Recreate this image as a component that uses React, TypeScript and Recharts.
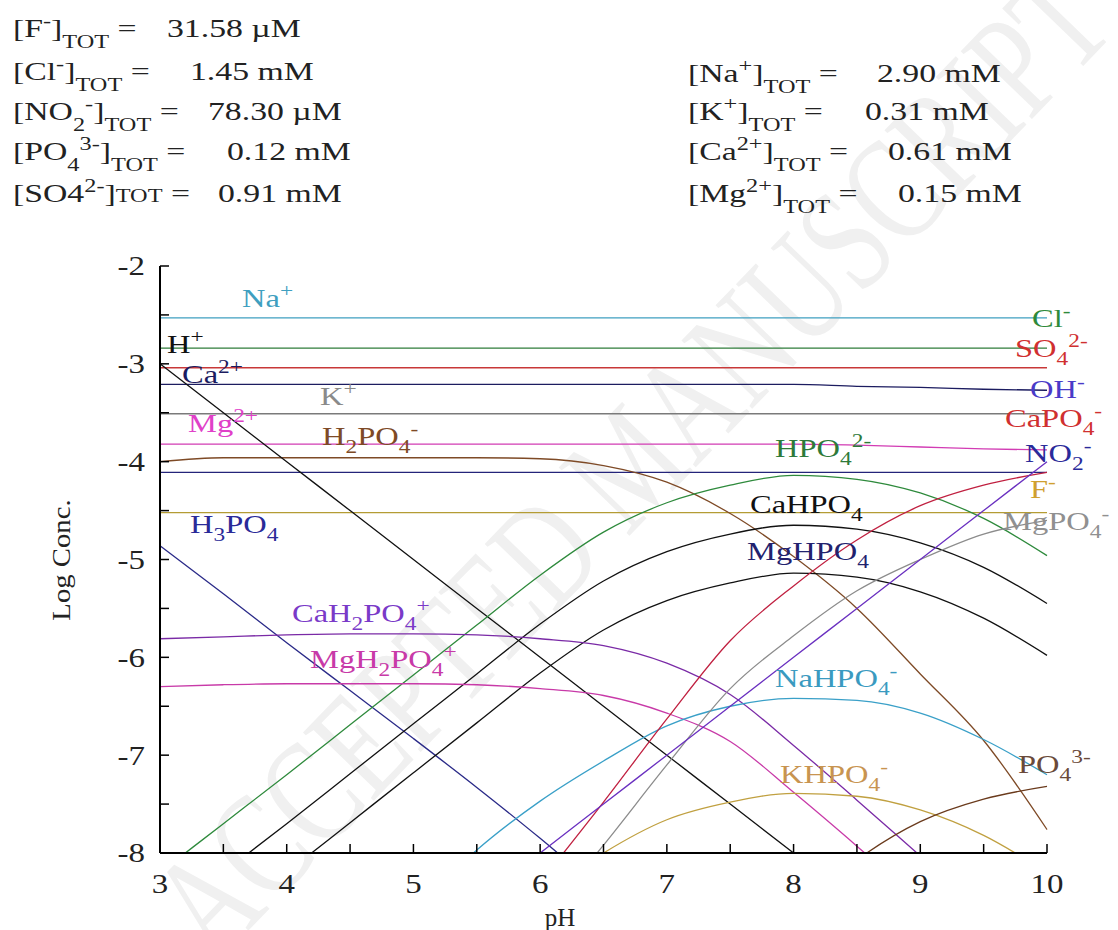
import React from 'react';
import { LineChart, Line, XAxis, YAxis } from 'recharts';

// pH grid (x) and axis ticks
const phValues = [3, 3.5, 4, 4.5, 5, 5.5, 6, 6.5, 7, 7.5, 8, 8.5, 9, 9.5, 10];
const xTicks = [3, 3.5, 4, 4.5, 5, 5.5, 6, 6.5, 7, 7.5, 8, 8.5, 9, 9.5, 10];
const yTicks = [-8, -7.5, -7, -6.5, -6, -5.5, -5, -4.5, -4, -3.5, -3, -2.5, -2];

// log concentrations, one value per pH above
const naPlus = [-2.53, -2.53, -2.53, -2.53, -2.53, -2.53, -2.53, -2.53, -2.53, -2.53, -2.53, -2.53, -2.53, -2.53, -2.53];
const clMinus = [-2.84, -2.84, -2.84, -2.84, -2.84, -2.84, -2.84, -2.84, -2.84, -2.84, -2.84, -2.84, -2.84, -2.84, -2.84];
const so4 = [-3.04, -3.04, -3.04, -3.04, -3.04, -3.04, -3.04, -3.04, -3.04, -3.04, -3.04, -3.04, -3.04, -3.04, -3.04];
const caFree = [-3.21, -3.21, -3.21, -3.21, -3.21, -3.21, -3.21, -3.21, -3.21, -3.21, -3.21, -3.23, -3.24, -3.26, -3.27];
const kPlus = [-3.51, -3.51, -3.51, -3.51, -3.51, -3.51, -3.51, -3.51, -3.51, -3.51, -3.51, -3.51, -3.51, -3.51, -3.51];
const mgFree = [-3.82, -3.82, -3.82, -3.82, -3.82, -3.82, -3.82, -3.82, -3.82, -3.82, -3.82, -3.83, -3.85, -3.87, -3.88];
const no2 = [-4.11, -4.11, -4.11, -4.11, -4.11, -4.11, -4.11, -4.11, -4.11, -4.11, -4.11, -4.11, -4.11, -4.11, -4.11];
const fMinus = [-4.52, -4.52, -4.52, -4.52, -4.52, -4.52, -4.52, -4.52, -4.52, -4.52, -4.52, -4.52, -4.52, -4.52, -4.52];
const hPlus = [-3, -3.5, -4, -4.5, -5, -5.5, -6, -6.5, -7, -7.5, -8, -8.5, null, null, null];
const ohMinus = [null, null, null, null, null, -8.5, -8, -7.5, -7, -6.5, -6, -5.5, -5, -4.5, -4];
const h3po4 = [-4.86, -5.35, -5.85, -6.34, -6.83, -7.33, -7.85, -8.4, null, null, null, null, null, null, null];
const h2po4 = [-4.0, -3.96, -3.96, -3.96, -3.96, -3.96, -3.97, -4.04, -4.21, -4.53, -4.97, -5.5, -6.17, -6.85, -7.76];
const hpo4 = [-8.2, -7.7, -7.2, -6.69, -6.18, -5.67, -5.16, -4.72, -4.42, -4.24, -4.14, -4.18, -4.32, -4.58, -4.96];
const caHpo4 = [-8.7, -8.2, -7.7, -7.19, -6.68, -6.17, -5.66, -5.22, -4.92, -4.74, -4.65, -4.69, -4.83, -5.08, -5.45];
const mgHpo4 = [null, -8.7, -8.2, -7.69, -7.18, -6.67, -6.16, -5.72, -5.42, -5.24, -5.14, -5.18, -5.33, -5.6, -5.98];
const caH2po4 = [-5.81, -5.79, -5.77, -5.76, -5.76, -5.77, -5.81, -5.88, -6.06, -6.38, -6.9, -7.46, -8.03, -8.6, null];
const mgH2po4 = [-6.3, -6.28, -6.27, -6.27, -6.27, -6.28, -6.32, -6.39, -6.57, -6.86, -7.38, -7.93, -8.5, null, null];
const naHpo4 = [null, null, null, null, -8.6, -7.97, -7.47, -7.06, -6.7, -6.5, -6.42, -6.44, -6.57, -6.84, -7.2];
const kHpo4 = [null, null, null, null, null, null, -8.45, -8.0, -7.66, -7.48, -7.39, -7.42, -7.56, -7.82, -8.2];
const po4 = [null, null, null, null, null, null, null, null, null, null, -8.6, -8.07, -7.68, -7.45, -7.32];
const caPo4 = [null, null, null, null, null, null, -8.3, -7.48, -6.63, -5.83, -5.27, -4.8, -4.45, -4.24, -4.11];
const mgPo4 = [null, null, null, null, null, null, -8.7, -7.92, -7.1, -6.32, -5.78, -5.32, -5.0, -4.74, -4.6];

const SERIES = [
  { key: 'Na', values: naPlus, color: '#3f9fc0' },
  { key: 'Cl', values: clMinus, color: '#2f7d3a' },
  { key: 'SO4', values: so4, color: '#c83838' },
  { key: 'Ca', values: caFree, color: '#1c1c60' },
  { key: 'K', values: kPlus, color: '#7a7a7a' },
  { key: 'Mg', values: mgFree, color: '#d23cb4' },
  { key: 'NO2', values: no2, color: '#24247a' },
  { key: 'F', values: fMinus, color: '#b49c34' },
  { key: 'H2PO4', values: h2po4, color: '#7e4a26' },
  { key: 'H3PO4', values: h3po4, color: '#2a2a88' },
  { key: 'H', values: hPlus, color: '#111111' },
  { key: 'HPO4', values: hpo4, color: '#2e8a3c' },
  { key: 'CaHPO4', values: caHpo4, color: '#111111' },
  { key: 'MgHPO4', values: mgHpo4, color: '#111111' },
  { key: 'CaH2PO4', values: caH2po4, color: '#7a2aa6' },
  { key: 'MgH2PO4', values: mgH2po4, color: '#c83aa8' },
  { key: 'NaHPO4', values: naHpo4, color: '#3aa0c8' },
  { key: 'KHPO4', values: kHpo4, color: '#c0a040' },
  { key: 'PO4', values: po4, color: '#6a3a1c' },
  { key: 'CaPO4', values: caPo4, color: '#c02040' },
  { key: 'MgPO4', values: mgPo4, color: '#8c8c8c' },
  { key: 'OH', values: ohMinus, color: '#6a30c0' },
];

const data = phValues.map((p, i) => {
  const row: Record<string, number | null> = { pH: p };
  SERIES.forEach((s) => { row[s.key] = s.values[i]; });
  return row;
});

// text labels: [text, left x, baseline y, colour]
const speciesLabels: [string, number, number, string][] = [
  ['Na^{+}', 242, 307, '#3f9fc0'],
  ['H^{+}', 167, 353, '#111'],
  ['Ca^{2+}', 182, 383, '#1c1c60'],
  ['K^{+}', 320, 405, '#8a8a8a'],
  ['Mg^{2+}', 188, 432, '#e040c8'],
  ['H_{2}PO_{4}^{-}', 322, 445, '#7e4a26'],
  ['H_{3}PO_{4}', 190, 533, '#2a2a98'],
  ['CaH_{2}PO_{4}^{+}', 292, 622, '#7a3ac8'],
  ['MgH_{2}PO_{4}^{+}', 310, 668, '#c83aa8'],
  ['HPO_{4}^{2-}', 775, 457, '#2e7a3a'],
  ['CaHPO_{4}', 750, 513, '#111'],
  ['MgHPO_{4}', 747, 560, '#22226e'],
  ['NaHPO_{4}^{-}', 775, 687, '#3a9ac0'],
  ['KHPO_{4}^{-}', 780, 783, '#c89450'],
  ['PO_{4}^{3-}', 1018, 773, '#6a4a3a'],
  ['Cl^{-}', 1032, 327, '#2e8a3a'],
  ['SO_{4}^{2-}', 1015, 357, '#d03030'],
  ['OH^{-}', 1030, 398, '#4a3ac8'],
  ['CaPO_{4}^{-}', 1005, 427, '#d03030'],
  ['NO_{2}^{-}', 1025, 462, '#2a2a9a'],
  ['F^{-}', 1030, 498, '#d0a030'],
  ['MgPO_{4}^{-}', 1003, 530, '#909090'],
];

const headerLabels: [string, number, number][] = [
  ['[F^{-}]_{TOT} =', 13, 37],
  ['[Cl^{-}]_{TOT} =', 13, 80],
  ['[NO_{2}^{-}]_{TOT} =', 13, 120],
  ['[PO_{4}^{3-}]_{TOT} =', 13, 160],
  ['[SO4^{2-}]~{TOT} =', 13, 202],
  ['[Na^{+}]_{TOT} =', 688, 82],
  ['[K^{+}]_{TOT} =', 688, 120],
  ['[Ca^{2+}]_{TOT} =', 688, 160],
  ['[Mg^{2+}]_{TOT} =', 688, 202],
];
const headerValues: [string, number, number][] = [
  ['31.58 µM', 167, 37],
  ['1.45 mM', 190, 80],
  ['78.30 µM', 208, 120],
  ['0.12 mM', 227, 160],
  ['0.91 mM', 218, 202],
  ['2.90 mM', 877, 82],
  ['0.31 mM', 865, 120],
  ['0.61 mM', 888, 160],
  ['0.15 mM', 898, 202],
];

const W = 1118;
const H = 930;
const PLOT_LEFT = 160;
const PLOT_RIGHT = 1047;
const PLOT_TOP = 266;
const PLOT_BOTTOM = 853;
const Y_AXIS_W = 60;
const X_AXIS_H = 40;
const SERIF = "'Liberation Serif', 'Times New Roman', serif";
const Y_GAP = 12;

// "^{..}" superscript, "_{..}" subscript, "~{..}" small text on the baseline
function splitChem(s: string) {
  const out: { t: string; k: string }[] = [];
  const re = /(\^|_|~)\{([^}]*)\}/g;
  let last = 0;
  let m: RegExpExecArray | null;
  while ((m = re.exec(s))) {
    if (m.index > last) out.push({ t: s.slice(last, m.index), k: 'n' });
    out.push({ t: m[2], k: m[1] === '^' ? 'sup' : m[1] === '_' ? 'sub' : 'small' });
    last = re.lastIndex;
  }
  if (last < s.length) out.push({ t: s.slice(last), k: 'n' });
  return out;
}

const Chem = ({ text, x, y, size, color, sx, subShift = 0.3, anchor = 'start' }: any) => {
  let cur = 0;
  return (
    <text transform={`translate(${x},${y}) scale(${sx},1)`} fontFamily={SERIF} fontSize={size}
      fill={color} textAnchor={anchor} style={{ whiteSpace: 'pre' }}>
      {splitChem(text).map((p, i) => {
        const target = p.k === 'sup' ? -0.4 * size : p.k === 'sub' ? subShift * size : 0;
        const dy = target - cur;
        cur = target;
        return (
          <tspan key={i} dy={dy} fontSize={p.k === 'n' ? size : size * 0.72}>{p.t}</tspan>
        );
      })}
    </text>
  );
};

const YTick = (props: any) => {
  const { x, y, payload } = props;
  const ax = x + Y_GAP;
  const major = Number.isInteger(payload.value);
  return (
    <g>
      <line x1={ax} x2={ax + 9} y1={y} y2={y} stroke="#000" strokeWidth={1.5} />
      {major && (
        <text transform={`translate(${x - 3},${y}) scale(1.22,1)`} textAnchor="end" dy="0.35em"
          fontFamily={SERIF} fontSize={27} fill="#222">{payload.value}</text>
      )}
    </g>
  );
};

const XTick = (props: any) => {
  const { x, y, payload } = props;
  const major = Number.isInteger(payload.value);
  return (
    <g>
      <line x1={x} x2={x} y1={y} y2={y - 9} stroke="#000" strokeWidth={1.5} />
      {major && (
        <text transform={`translate(${x},${y + 40}) scale(1.22,1)`} textAnchor="middle"
          fontFamily={SERIF} fontSize={27} fill="#222">{payload.value}</text>
      )}
    </g>
  );
};

export default function App() {
  return (
    <div style={{ position: 'relative', width: W, height: H, background: '#fff', overflow: 'hidden' }}>
      <style>{`body{margin:0;}`}</style>
      <svg width={W} height={H} style={{ position: 'absolute', left: 0, top: 0 }}>
        <text transform="translate(215,965) rotate(-46)" fontFamily={SERIF} fontSize={150}
          fill="#f0f0f0" textLength={1300} lengthAdjust="spacingAndGlyphs">ACCEPTED MANUSCRIPT</text>
      </svg>
      <div style={{ position: 'absolute', left: 0, top: 0 }}>
        <LineChart width={W} height={H} data={data}
          margin={{ top: PLOT_TOP, right: W - PLOT_RIGHT, bottom: H - PLOT_BOTTOM - X_AXIS_H, left: PLOT_LEFT - Y_AXIS_W }}>
          <XAxis dataKey="pH" type="number" domain={[3, 10]} ticks={xTicks} interval={0}
            height={X_AXIS_H} tickSize={0} tickMargin={0} tickLine={false}
            axisLine={{ stroke: '#000', strokeWidth: 2 }} tick={<XTick />} />
          <YAxis type="number" domain={[-8, -2]} ticks={yTicks} interval={0} allowDataOverflow
            width={Y_AXIS_W} tickSize={0} tickMargin={Y_GAP} tickLine={false}
            axisLine={{ stroke: '#000', strokeWidth: 2 }} tick={<YTick />} />
          {SERIES.map((s) => (
            <Line key={s.key} dataKey={s.key} type="monotone" stroke={s.color} strokeWidth={1.3}
              dot={false} activeDot={false} connectNulls={false} isAnimationActive={false} />
          ))}
        </LineChart>
      </div>
      <svg width={W} height={H} style={{ position: 'absolute', left: 0, top: 0, pointerEvents: 'none' }}>
        {headerLabels.map(([t, x, y]) => (
          <Chem key={t} text={t} x={x} y={y} size={25} sx={1.35} subShift={0.42} color="#222" />
        ))}
        {headerValues.map(([t, x, y]) => (
          <Chem key={t + x} text={t} x={x} y={y} size={25} sx={1.35} color="#222" />
        ))}
        {speciesLabels.map(([t, x, y, c]) => (
          <Chem key={t} text={t} x={x} y={y} size={25} sx={1.3} color={c} />
        ))}
        <text transform="translate(70,560) rotate(-90) scale(1.15,1)" textAnchor="middle"
          fontFamily={SERIF} fontSize={25} fill="#222">Log Conc.</text>
        <text x={560} y={926} textAnchor="middle" fontFamily={SERIF} fontSize={25} fill="#222">pH</text>
      </svg>
    </div>
  );
}
